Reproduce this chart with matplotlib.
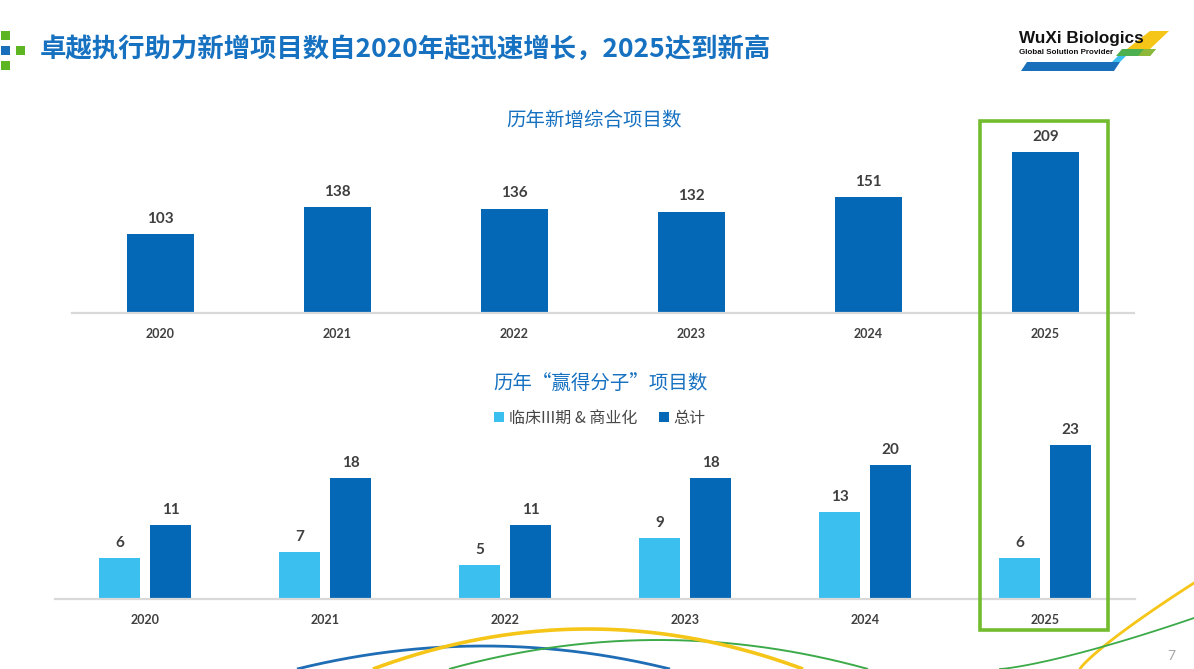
import numpy as np
import matplotlib.pyplot as plt
from matplotlib.patches import Rectangle, Polygon

plt.rcParams['font.family'] = ['Lato', 'Noto Sans CJK SC', 'DejaVu Sans']

# data
years = ['2020', '2021', '2022', '2023', '2024', '2025']
new_projects = [103, 138, 136, 132, 151, 209]
phase3_commercial = [6, 7, 5, 9, 13, 6]
win_total = [11, 18, 11, 18, 20, 23]
legend_labels = ['临床III期 & 商业化', '总计']

main_title = '卓越执行助力新增项目数自2020年起迅速增长，2025达到新高'
top_title = '历年新增综合项目数'
bottom_title = '历年“赢得分子”项目数'

DARK = '#0468B6'
LIGHT = '#3BBFEE'
TITLE_BLUE = '#1671C1'
LABEL_GRAY = '#3F3F3F'
GREEN = '#72BC2E'

W, H = 1194, 669
fig = plt.figure(figsize=(W / 100, H / 100), dpi=100)


def fx(px):
    return px / W


def fy(py):
    return 1 - py / H


# background axes in pixel coordinates for decorations
bg = fig.add_axes([0, 0, 1, 1], zorder=-5)
bg.set_xlim(0, W)
bg.set_ylim(H, 0)
bg.axis('off')

# bottom decorative arcs
def arc(x0, x1, ypeak, color, lw):
    xs = np.linspace(x0, x1, 200)
    xm = (x0 + x1) / 2
    ys = ypeak + (H - ypeak) * ((xs - xm) / (x1 - xm)) ** 2
    bg.plot(xs, ys, color=color, lw=lw, solid_capstyle='butt')

arc(297, 670, 646, '#1F6DB5', 2.0)
arc(449, 868, 640, '#3DAA4A', 1.4)
arc(373, 803, 629, '#F5C518', 2.6)
xs = np.linspace(1080, 1194, 100)
bg.plot(xs, 669 - (669 - 583) * ((xs - 1080) / 114) ** 0.85, color='#F5C518', lw=2.0)
xs = np.linspace(1000, 1194, 100)
bg.plot(xs, 669 - (669 - 618) * ((xs - 1000) / 194) ** 1.3, color='#3DAA4A', lw=1.3)

# top-left icon
for (x, y, c) in [(1, 31, '#5DB521'), (1, 46, '#1A6FBA'), (16, 46, '#5DB521'), (1, 61, '#5DB521')]:
    bg.add_patch(Rectangle((x, y), 9, 9, color=c, lw=0))

fig.text(fx(40), fy(50), main_title, fontsize=19, fontweight='bold', color=TITLE_BLUE,
         va='center', ha='left', family=['Noto Sans CJK SC'])

# logo
bg.add_patch(Polygon([[1021, 71], [1027, 62], [1120, 62], [1114, 71]], color='#1A6FBA', lw=0))
bg.add_patch(Polygon([[1112, 62], [1118, 56], [1126, 56], [1120, 62]], color='#3BBFEE', lw=0))
bg.add_patch(Polygon([[1116, 56], [1122, 49], [1156, 49], [1150, 56]], color='#4CAF50', lw=0))
bg.add_patch(Polygon([[1138, 56], [1144, 49], [1156, 49], [1150, 56]], color='#8DB83A', lw=0))
bg.add_patch(Polygon([[1127, 49], [1150, 31], [1169, 31], [1150, 49]], color='#F5C518', lw=0))
fig.text(fx(1019), fy(39), 'WuXi Biologics', fontsize=12.3, fontweight='bold', color='#111111',
         va='center', ha='left', family=['Liberation Sans'])
fig.text(fx(1019), fy(53), 'Global Solution Provider', fontsize=5.8, fontweight='bold',
         color='#111111', va='center', ha='left', family=['Liberation Sans'])

# page number
fig.text(fx(1171), fy(656), '7', fontsize=10, color='#A6A6A6', ha='center', va='center')

x = np.arange(len(years))

# top chart
ax1 = fig.add_axes([fx(72), fy(313), fx(1134) - fx(72), 192 / H])
ax1.bar(x, new_projects, width=0.384, color=DARK)
ax1.set_xlim(-0.5, 5.5)
ax1.set_ylim(0, 192 / 0.768)
for xi, v in zip(x, new_projects):
    ax1.annotate(str(v), (xi, v), xytext=(0, 11), textcoords='offset points',
                 ha='center', va='center', fontsize=11, fontweight='bold', color=LABEL_GRAY)
fig.text(fx(594), fy(121), top_title, fontsize=14, color=TITLE_BLUE, ha='center', va='center',
         family=['Noto Sans CJK SC'])

# bottom chart
ax2 = fig.add_axes([fx(55), fy(598.5), fx(1135) - fx(55), 200 / H])
w = 0.225
off = 0.142
b1 = ax2.bar(x - off, phase3_commercial, width=w, color=LIGHT, label=legend_labels[0])
b2 = ax2.bar(x + off, win_total, width=w, color=DARK, label=legend_labels[1])
ax2.set_xlim(-0.5, 5.5)
ax2.set_ylim(0, 200 / 6.67)
for xi, v in zip(x - off, phase3_commercial):
    ax2.annotate(str(v), (xi, v), xytext=(0, 11), textcoords='offset points',
                 ha='center', va='center', fontsize=11, fontweight='bold', color=LABEL_GRAY)
for xi, v in zip(x + off, win_total):
    ax2.annotate(str(v), (xi, v), xytext=(0, 11), textcoords='offset points',
                 ha='center', va='center', fontsize=11, fontweight='bold', color=LABEL_GRAY)

for ax in (ax1, ax2):
    ax.set_xticks(x)
    ax.set_xticklabels(years, fontsize=9, fontweight='bold', color='#404040')
    ax.tick_params(axis='x', length=0, pad=11)
    ax.set_yticks([])
    for s in ('top', 'right', 'left'):
        ax.spines[s].set_visible(False)
    ax.spines['bottom'].set_color('#D9D9D9')
    ax.spines['bottom'].set_linewidth(1.6)
    ax.patch.set_alpha(0)

fig.text(fx(600), fy(383), bottom_title, fontsize=14, color=TITLE_BLUE, ha='center', va='center',
         family=['Noto Sans CJK SC'])
fig.legend(handles=[b1, b2], labels=legend_labels, loc='center', bbox_to_anchor=(fx(600), fy(418)),
           ncol=2, frameon=False, handlelength=0.6, handleheight=0.6,
           handletextpad=0.3, columnspacing=1.4, labelcolor='#474747',
           prop={'family': ['Noto Sans CJK SC'], 'size': 11.5, 'weight': 'medium'})

# highlight box around 2025
fig.patches.append(Rectangle((fx(980), fy(630)), fx(1108) - fx(980), (630 - 121) / H,
                             transform=fig.transFigure, fill=False, edgecolor=GREEN, lw=2.6,
                             zorder=10))

fig.savefig('out.png', dpi=100, facecolor='white')
